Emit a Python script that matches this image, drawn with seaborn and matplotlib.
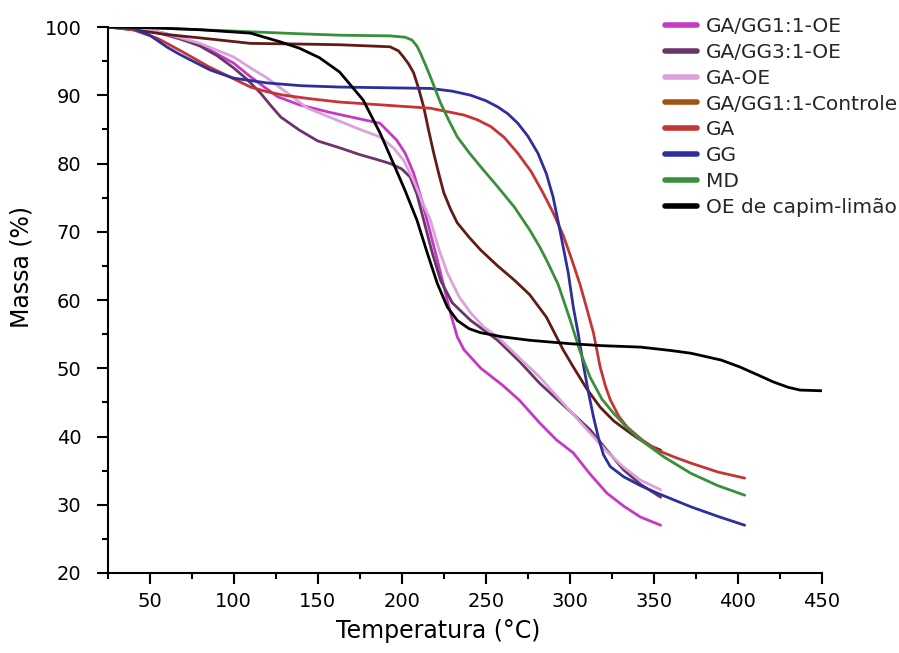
import matplotlib
matplotlib.use("Agg")
import matplotlib.pyplot as plt
from matplotlib.lines import Line2D
from matplotlib.ticker import MultipleLocator
import seaborn as sns
import pandas as pd

# ---------------- data ----------------
labels = ["GA/GG1:1-OE", "GA/GG3:1-OE", "GA-OE", "GA/GG1:1-Controle",
          "GA", "GG", "MD", "OE de capim-limão"]

ga_gg11_oe_T = [25, 45, 60, 80, 100, 110, 116, 126, 139, 157, 170, 187, 197, 202, 207, 212, 217, 221, 225, 229, 233, 237, 247, 260, 270, 282, 292, 302, 312, 322, 332, 342, 354]
ga_gg11_oe_M = [100, 99.8, 98.8, 97.4, 94.7, 92.7, 91.6, 89.8, 88.6, 87.5, 86.8, 85.9, 83.4, 81.5, 78.6, 74.5, 69.8, 66, 62, 58, 54.6, 52.7, 50, 47.5, 45.3, 42, 39.5, 37.6, 34.5, 31.7, 29.8, 28.2, 27]

ga_gg31_oe_T = [25, 45, 60, 80, 90, 100, 108, 116, 122, 128, 139, 150, 163, 175, 185, 193, 200, 205, 209, 213, 218, 223, 230, 241, 257, 270, 282, 297, 312, 322, 332, 342, 354]
ga_gg31_oe_M = [100, 99.8, 99, 97.2, 95.8, 94, 92.3, 90.3, 88.5, 86.8, 84.9, 83.3, 82.3, 81.3, 80.6, 80, 79.2, 78, 75.5, 71.7, 67, 62.9, 59.6, 57, 54.1, 51, 47.8, 44.4, 41, 38, 35.1, 33, 31.1]

ga_oe_T = [25, 45, 60, 80, 100, 110, 120, 132, 144, 157, 163, 175, 187, 195, 201, 207, 212, 217, 222, 227, 234, 241, 249, 257, 270, 282, 297, 312, 322, 332, 342, 354]
ga_oe_M = [100, 99.8, 99, 97.6, 95.6, 94, 92.5, 90.3, 88.1, 86.8, 86.2, 85, 83.9, 82.3, 80.5, 77.5, 74.5, 71.7, 67.5, 64, 60.5, 58.1, 56, 54.6, 51.5, 48.7, 44.6, 40.5, 37.8, 35.5, 33.6, 32.2]

controle_T = [25, 40, 60, 80, 110, 140, 163, 193, 198, 201, 204, 207, 210, 213, 216, 219, 222, 225, 229, 233, 240, 247, 257, 267, 276, 286, 296, 302, 310, 318, 326, 332, 340, 348, 354]
controle_M = [100, 99.6, 98.9, 98.4, 97.6, 97.5, 97.4, 97.1, 96.5, 95.6, 94.6, 93.3, 91, 88.3, 84.8, 81.5, 78.5, 75.7, 73.3, 71.3, 69.2, 67.3, 65, 62.9, 60.8, 57.5, 52.7, 50.2, 47, 44.3, 42.3, 41.2, 39.8, 38.6, 38]

ga_T = [25, 40, 55, 70, 85, 100, 110, 120, 130, 145, 163, 187, 217, 237, 245, 253, 261, 269, 277, 284, 290, 296, 301, 306, 310, 314, 318, 321, 324, 329, 334, 343, 352, 362, 372, 388, 404]
ga_M = [100, 99.6, 98.3, 96.3, 94.2, 92.4, 91.2, 90.5, 90, 89.5, 89, 88.6, 88.1, 87.1, 86.4, 85.4, 83.8, 81.5, 78.8, 75.7, 72.8, 69.5, 66, 62.3, 58.8, 55.2, 50.2, 47.5, 45.4, 43, 41.4, 39.5, 38, 37, 36.1, 34.8, 33.9]

gg_T = [25, 40, 50, 60, 67, 74, 86, 100, 120, 140, 163, 190, 217, 230, 241, 250, 257, 263, 269, 275, 281, 286, 290, 293, 296, 299, 302, 305, 308, 311, 314, 317, 320, 324, 332, 342, 352, 362, 372, 388, 404]
gg_M = [100, 99.8, 98.8, 97.1, 96.1, 95.2, 93.7, 92.5, 91.8, 91.4, 91.2, 91.1, 91, 90.6, 90, 89.2, 88.3, 87.3, 85.9, 84, 81.5, 78.5, 75.1, 71.5, 67.8, 64, 59, 55, 50.5, 46.5, 42.9, 39.8, 37.3, 35.6, 34.1, 32.8, 31.7, 30.7, 29.7, 28.3, 27]

md_T = [25, 50, 80, 110, 140, 163, 193, 202, 206, 209, 211, 214, 217, 220, 223, 228, 233, 240, 247, 257, 267, 276, 282, 286, 293, 300, 306, 312, 319, 326, 334, 342, 356, 372, 388, 404]
md_M = [100, 99.9, 99.6, 99.3, 99, 98.8, 98.7, 98.5, 98.1, 97.2, 96.2, 94.5, 92.7, 90.8, 88.9, 86.3, 83.9, 81.6, 79.5, 76.6, 73.6, 70.3, 67.8, 65.9, 62.3, 57.2, 52.5, 48.7, 45.5, 43.4, 41.3, 39.5, 37, 34.6, 32.8, 31.4]

oe_T = [25, 50, 80, 110, 128, 139, 151, 163, 177, 187, 195, 202, 209, 215, 221, 227, 233, 240, 247, 260, 276, 300, 320, 342, 360, 372, 390, 401, 412, 421, 430, 437, 450]
oe_M = [100, 99.9, 99.6, 99.1, 97.8, 96.9, 95.5, 93.4, 89.3, 84.5, 80, 76, 71.7, 67, 62.5, 59, 57, 55.8, 55.2, 54.6, 54.1, 53.6, 53.3, 53.1, 52.6, 52.2, 51.2, 50.2, 49, 48, 47.2, 46.8, 46.7]

line_colors = ["#c43ac4", "#6a366a", "#dba2db", "#611c16",
               "#c53535", "#2f2f9c", "#3a8f3a", "#000000"]
legend_colors = ["#c43ac4", "#6a366a", "#dba2db", "#a2520f",
                 "#c53535", "#2f2f9c", "#3a8f3a", "#000000"]

series_T = [ga_gg11_oe_T, ga_gg31_oe_T, ga_oe_T, controle_T, ga_T, gg_T, md_T, oe_T]
series_M = [ga_gg11_oe_M, ga_gg31_oe_M, ga_oe_M, controle_M, ga_M, gg_M, md_M, oe_M]

rows = []
for lab, Ts, Ms in zip(labels, series_T, series_M):
    for t, m in zip(Ts, Ms):
        rows.append({"Temperatura": t, "Massa": m, "Amostra": lab})
df = pd.DataFrame(rows)

# ---------------- plot ----------------
sns.set_theme(style="ticks")
plt.rcParams["font.family"] = ["DejaVu Sans"]

fig = plt.figure(figsize=(8.99, 6.53), dpi=100)
ax = fig.add_axes([107.7 / 899, 1 - 573 / 653, (822 - 107.7) / 899, (573 - 27) / 653])

sns.lineplot(data=df, x="Temperatura", y="Massa", hue="Amostra",
             hue_order=labels, palette=dict(zip(labels, line_colors)),
             estimator=None, sort=False, linewidth=2.0, ax=ax, legend=False)

ax.set_xlim(25, 450)
ax.set_ylim(20, 100)
ax.set_xticks([50, 100, 150, 200, 250, 300, 350, 400, 450])
ax.xaxis.set_minor_locator(MultipleLocator(25))
ax.yaxis.set_major_locator(MultipleLocator(10))
ax.yaxis.set_minor_locator(MultipleLocator(5))

for s in ["top", "right"]:
    ax.spines[s].set_visible(False)
for s in ["left", "bottom"]:
    ax.spines[s].set_linewidth(1.5)
    ax.spines[s].set_color("black")

ax.tick_params(axis="both", which="major", direction="out", length=8, width=1.5,
               labelsize=14, colors="black")
ax.tick_params(axis="x", which="major", pad=6)
ax.tick_params(axis="y", which="major", pad=11)
ax.tick_params(axis="both", which="minor", direction="out", length=4.5, width=1.5, colors="black")

ax.set_xlabel("Temperatura (°C)", fontsize=17, color="black")
ax.set_ylabel("Massa (%)", fontsize=17, color="black")
ax.xaxis.set_label_coords(0.462, -0.085)
ax.yaxis.set_label_coords(-0.104, 0.56)

handles = [Line2D([0], [0], color=c, lw=4) for c in legend_colors]
fig.legend(handles, labels, loc="upper left", bbox_to_anchor=(665 / 899, 1 - 17 / 653),
           frameon=False, fontsize=14.5, handlelength=1.6, handletextpad=0.45,
           labelspacing=0.34, borderpad=0, borderaxespad=0)

fig.savefig("out.png", dpi=100)
